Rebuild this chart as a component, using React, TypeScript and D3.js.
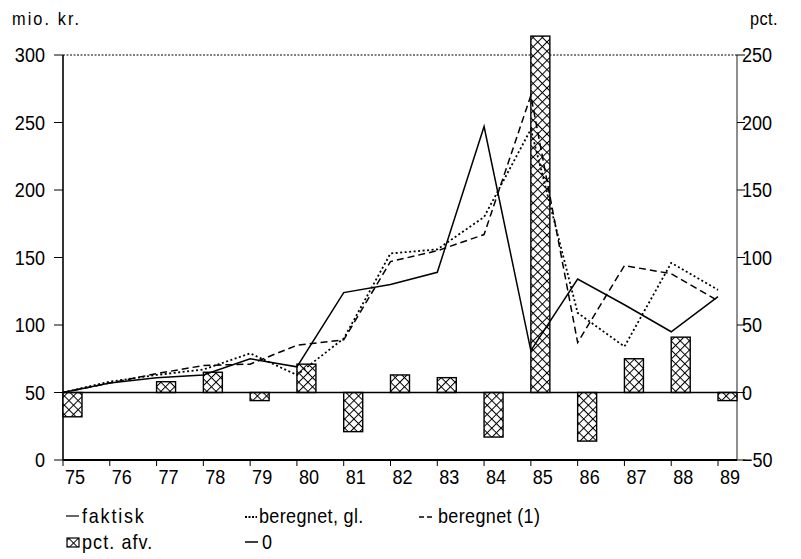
import React from "react";
import * as d3 from "d3";

// Years on the horizontal axis (19xx)
const years = [75, 76, 77, 78, 79, 80, 81, 82, 83, 84, 85, 86, 87, 88, 89];
// mio. kr. (left axis)
const faktisk = [50, 57, 61, 63, 75, 69, 124, 130, 139, 247, 81, 134, 115, 95, 121];
const beregnetGl = [50, 58, 63, 67, 79, 63, 90, 153, 156, 180, 245, 109, 84, 146, 126];
const beregnet1 = [50, 57, 64, 70, 71, 85, 89, 147, 155, 167, 270, 87, 144, 138, 118];
// pct. (right axis)
const pctAfv = [-18, 0, 8, 15, -6, 21, -29, 13, 11, -33, 264, -36, 25, 41, -6];

const leftTicks = [0, 50, 100, 150, 200, 250, 300];
const rightTicks = [-50, 0, 50, 100, 150, 200, 250];

const W = 801;
const H = 559;
const FONT = "'Liberation Sans', Arial, Helvetica, sans-serif";

// Narrow text: horizontally squeezed to get a condensed look
function T(props: {
  x: number;
  y: number;
  size: number;
  anchor?: "start" | "middle" | "end";
  sx?: number;
  ls?: number;
  children: React.ReactNode;
}) {
  const { x, y, size, anchor = "start", sx = 0.86, ls = 0, children } = props;
  return (
    <text
      transform={`translate(${x},${y}) scale(${sx},1)`}
      fontSize={size}
      textAnchor={anchor}
      letterSpacing={ls}
      fill="#000"
    >
      {children}
    </text>
  );
}

export default function App() {
  const x0 = 63;
  const xAxisRight = 737;
  const x = d3.scaleLinear().domain([75, 89]).range([63, 718]);
  const yL = d3.scaleLinear().domain([0, 300]).range([460, 55]);
  const yR = d3.scaleLinear().domain([-50, 250]).range([460, 55]);
  const barW = 19;

  const lineOf = (vals: number[]) =>
    d3
      .line<number>()
      .x((_, i) => x(years[i]))
      .y((v) => yL(v))(vals) || "";

  return (
    <svg
      width={W}
      height={H}
      style={{ position: "absolute", left: 0, top: 0, background: "#fff" }}
      fontFamily={FONT}
    >
      <defs>
        <pattern id="xhatch" width="6.5" height="6.5" patternUnits="userSpaceOnUse" patternTransform="rotate(45)">
          <rect width="6.5" height="6.5" fill="#fff" />
          <line x1="0" y1="0" x2="0" y2="6.5" stroke="#000" strokeWidth="2" />
          <line x1="0" y1="0" x2="6.5" y2="0" stroke="#000" strokeWidth="2" />
        </pattern>
      </defs>

      {/* axis titles */}
      <T x={12} y={25} size={19} ls={2.4}>mio. kr.</T>
      <T x={750} y={25} size={19} ls={0.5}>pct.</T>

      {/* frame */}
      <line x1={x0} x2={x0} y1={yL(300)} y2={yL(0)} stroke="#000" strokeWidth={1.6} />
      <line x1={xAxisRight} x2={xAxisRight} y1={yR(250)} y2={yR(-50)} stroke="#444" strokeWidth={1.2} />
      <line x1={x0} x2={xAxisRight} y1={yL(300)} y2={yL(300)} stroke="#000" strokeWidth={1} strokeDasharray="2,1.5" />
      <line x1={x0} x2={xAxisRight} y1={yL(0)} y2={yL(0)} stroke="#000" strokeWidth={1.8} />

      {/* left ticks */}
      {leftTicks.map((t) => (
        <g key={"l" + t}>
          <line x1={x0 - 9} x2={x0} y1={yL(t)} y2={yL(t)} stroke="#000" strokeWidth={1} />
          <T x={45} y={yL(t) + 7} size={21} anchor="end">{t}</T>
        </g>
      ))}
      {/* right ticks */}
      {rightTicks.map((t) => (
        <g key={"r" + t}>
          <line x1={xAxisRight} x2={xAxisRight + 8} y1={yR(t)} y2={yR(t)} stroke="#000" strokeWidth={1} />
          <T x={742} y={yR(t) + 7} size={21}>
            {t < 0 ? "\u2212" + Math.abs(t) : t}
          </T>
        </g>
      ))}
      {/* bottom ticks */}
      {years.map((yr) => (
        <g key={"x" + yr}>
          <line x1={x(yr)} x2={x(yr)} y1={yL(0)} y2={yL(0) + 6} stroke="#000" strokeWidth={1} />
          <T x={x(yr) + 12} y={484} size={21} anchor="middle">{yr}</T>
        </g>
      ))}

      {/* pct. afv. bars */}
      {pctAfv.map((v, i) =>
        v === 0 ? null : (
          <rect
            key={"b" + i}
            x={x(years[i])}
            width={barW}
            y={Math.min(yR(v), yR(0))}
            height={Math.abs(yR(v) - yR(0))}
            fill="url(#xhatch)"
            stroke="#000"
            strokeWidth={1.4}
          />
        )
      )}

      {/* zero line */}
      <line x1={x0} x2={xAxisRight} y1={yR(0)} y2={yR(0)} stroke="#000" strokeWidth={1.5} />

      {/* series lines */}
      <path d={lineOf(beregnet1)} fill="none" stroke="#000" strokeWidth={1.5} strokeDasharray="7,4" />
      <path d={lineOf(beregnetGl)} fill="none" stroke="#000" strokeWidth={1.8} strokeDasharray="2,2.5" />
      <path d={lineOf(faktisk)} fill="none" stroke="#000" strokeWidth={1.5} />

      {/* legend */}
      <line x1={66} x2={79} y1={516} y2={516} stroke="#000" strokeWidth={1.2} />
      <T x={82} y={523} size={20} ls={2} sx={0.9}>faktisk</T>

      <line x1={245} x2={257} y1={517} y2={517} stroke="#000" strokeWidth={2} strokeDasharray="2,1.5" />
      <T x={259} y={523} size={20} ls={0.4} sx={0.9}>beregnet, gl.</T>

      <line x1={419} x2={435} y1={517} y2={517} stroke="#000" strokeWidth={1.3} strokeDasharray="5,3" />
      <T x={438} y={523} size={20} ls={0.4} sx={0.9}>beregnet (1)</T>

      <rect x={67} y={538} width={12} height={9} fill="url(#xhatch)" stroke="#000" strokeWidth={1.2} />
      <T x={82} y={549} size={20} ls={1.2} sx={0.9}>pct. afv.</T>

      <line x1={245} x2={258} y1={542} y2={542} stroke="#000" strokeWidth={1.5} />
      <T x={262} y={549} size={20} sx={0.9}>0</T>
    </svg>
  );
}
